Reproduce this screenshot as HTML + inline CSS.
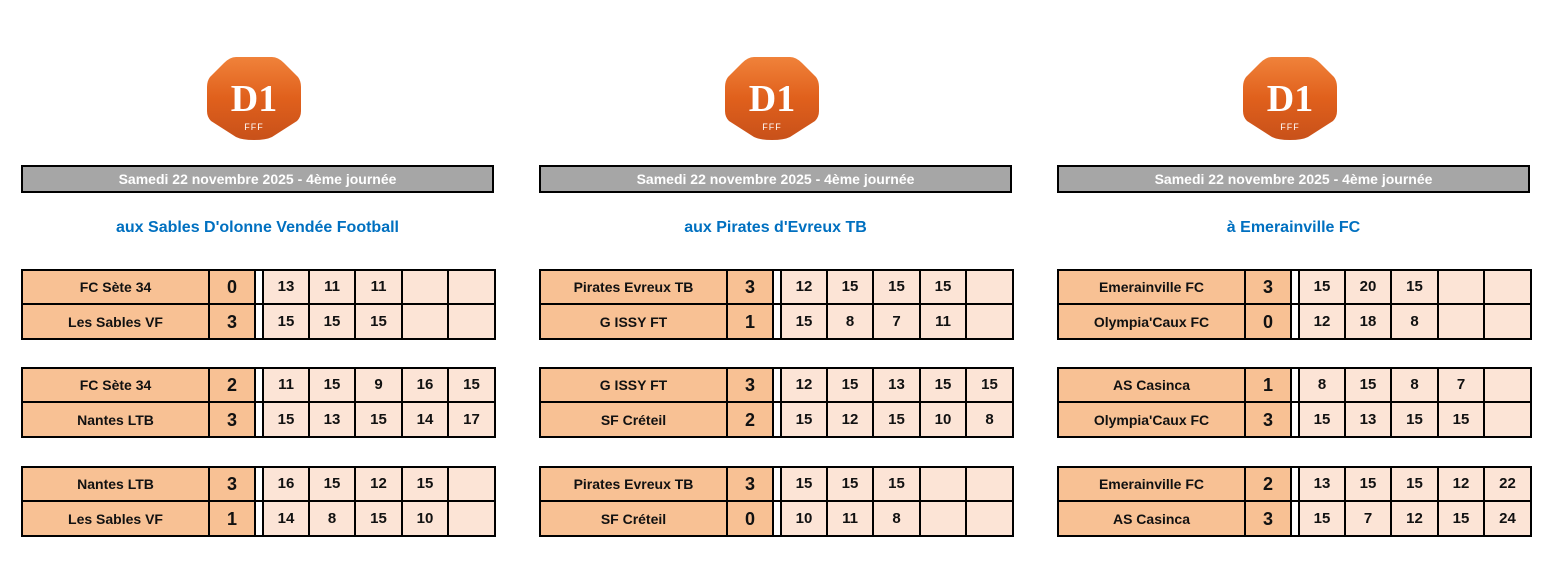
<!DOCTYPE html>
<html><head><meta charset="utf-8"><style>
body{margin:0;width:1551px;height:563px;background:#fff;position:relative;overflow:hidden;font-family:"Liberation Sans",Arial,sans-serif}
.p{position:absolute;top:0;width:475px;height:563px}
.logo{position:absolute;left:185px;top:55px}
.hd{position:absolute;left:0;top:165px;width:469px;height:24px;background:#a6a6a6;border:2px solid #000;color:#fff;font-weight:bold;font-size:14px;text-align:center;line-height:24px}
.tt{position:absolute;left:0;width:473px;top:219px;text-align:center;color:#0070c0;font-weight:bold;font-size:16px}
table{position:absolute;left:0;border-collapse:collapse;table-layout:fixed;width:475px}
td{border:2px solid #000;padding:0;text-align:center;font-weight:bold;color:#111;font-size:14px;line-height:16px}
td.n{background:#f8c194}
td.s{background:#f8c194;font-size:18px}
td.g{background:#fff}
td.v{background:#fce4d6;font-size:15px}
tr.a td{height:32px}
tr.b td{height:33px}
</style></head><body>

<svg width="0" height="0" style="position:absolute"><defs><linearGradient id="og" x1="0" y1="0" x2="0" y2="1"><stop offset="0" stop-color="#f0823a"/><stop offset="0.5" stop-color="#e0601c"/><stop offset="1" stop-color="#c8511a"/></linearGradient></defs></svg>

<div class="p" style="left:21px">
<svg class="logo" width="96" height="86" viewBox="0 0 96 86"><path d="M30 2 L66 2 Q72 2 78 8 L92 22 Q95 26 95 32 L95 56 Q95 62 91 66 L66 82 Q60 85 48 85 Q36 85 30 82 L5 66 Q1 62 1 56 L1 32 Q1 26 4 22 L18 8 Q24 2 30 2Z" fill="url(#og)"/><text x="48" y="56" text-anchor="middle" font-family="Liberation Serif,serif" font-weight="bold" font-size="38" fill="#fff">D1</text><text x="48" y="75" text-anchor="middle" font-family="Liberation Sans,sans-serif" font-size="9" fill="#fff" letter-spacing="1">FFF</text></svg>
<div class="hd">Samedi 22 novembre 2025 - 4ème journée</div>
<div class="tt">aux Sables D'olonne Vendée Football</div>
<table style="top:269px"><colgroup><col style="width:187px"><col style="width:46px"><col style="width:8px"><col style="width:46px"><col style="width:46px"><col style="width:47px"><col style="width:46px"><col style="width:47px"></colgroup><tr class="a"><td class="n">FC Sète 34</td><td class="s">0</td><td class="g"></td><td class="v">13</td><td class="v">11</td><td class="v">11</td><td class="v"></td><td class="v"></td></tr><tr class="b"><td class="n">Les Sables VF</td><td class="s">3</td><td class="g"></td><td class="v">15</td><td class="v">15</td><td class="v">15</td><td class="v"></td><td class="v"></td></tr></table>
<table style="top:367px"><colgroup><col style="width:187px"><col style="width:46px"><col style="width:8px"><col style="width:46px"><col style="width:46px"><col style="width:47px"><col style="width:46px"><col style="width:47px"></colgroup><tr class="a"><td class="n">FC Sète 34</td><td class="s">2</td><td class="g"></td><td class="v">11</td><td class="v">15</td><td class="v">9</td><td class="v">16</td><td class="v">15</td></tr><tr class="b"><td class="n">Nantes LTB</td><td class="s">3</td><td class="g"></td><td class="v">15</td><td class="v">13</td><td class="v">15</td><td class="v">14</td><td class="v">17</td></tr></table>
<table style="top:466px"><colgroup><col style="width:187px"><col style="width:46px"><col style="width:8px"><col style="width:46px"><col style="width:46px"><col style="width:47px"><col style="width:46px"><col style="width:47px"></colgroup><tr class="a"><td class="n">Nantes LTB</td><td class="s">3</td><td class="g"></td><td class="v">16</td><td class="v">15</td><td class="v">12</td><td class="v">15</td><td class="v"></td></tr><tr class="b"><td class="n">Les Sables VF</td><td class="s">1</td><td class="g"></td><td class="v">14</td><td class="v">8</td><td class="v">15</td><td class="v">10</td><td class="v"></td></tr></table>
</div>

<div class="p" style="left:539px">
<svg class="logo" width="96" height="86" viewBox="0 0 96 86"><path d="M30 2 L66 2 Q72 2 78 8 L92 22 Q95 26 95 32 L95 56 Q95 62 91 66 L66 82 Q60 85 48 85 Q36 85 30 82 L5 66 Q1 62 1 56 L1 32 Q1 26 4 22 L18 8 Q24 2 30 2Z" fill="url(#og)"/><text x="48" y="56" text-anchor="middle" font-family="Liberation Serif,serif" font-weight="bold" font-size="38" fill="#fff">D1</text><text x="48" y="75" text-anchor="middle" font-family="Liberation Sans,sans-serif" font-size="9" fill="#fff" letter-spacing="1">FFF</text></svg>
<div class="hd">Samedi 22 novembre 2025 - 4ème journée</div>
<div class="tt">aux Pirates d'Evreux TB</div>
<table style="top:269px"><colgroup><col style="width:187px"><col style="width:46px"><col style="width:8px"><col style="width:46px"><col style="width:46px"><col style="width:47px"><col style="width:46px"><col style="width:47px"></colgroup><tr class="a"><td class="n">Pirates Evreux TB</td><td class="s">3</td><td class="g"></td><td class="v">12</td><td class="v">15</td><td class="v">15</td><td class="v">15</td><td class="v"></td></tr><tr class="b"><td class="n">G ISSY FT</td><td class="s">1</td><td class="g"></td><td class="v">15</td><td class="v">8</td><td class="v">7</td><td class="v">11</td><td class="v"></td></tr></table>
<table style="top:367px"><colgroup><col style="width:187px"><col style="width:46px"><col style="width:8px"><col style="width:46px"><col style="width:46px"><col style="width:47px"><col style="width:46px"><col style="width:47px"></colgroup><tr class="a"><td class="n">G ISSY FT</td><td class="s">3</td><td class="g"></td><td class="v">12</td><td class="v">15</td><td class="v">13</td><td class="v">15</td><td class="v">15</td></tr><tr class="b"><td class="n">SF Créteil</td><td class="s">2</td><td class="g"></td><td class="v">15</td><td class="v">12</td><td class="v">15</td><td class="v">10</td><td class="v">8</td></tr></table>
<table style="top:466px"><colgroup><col style="width:187px"><col style="width:46px"><col style="width:8px"><col style="width:46px"><col style="width:46px"><col style="width:47px"><col style="width:46px"><col style="width:47px"></colgroup><tr class="a"><td class="n">Pirates Evreux TB</td><td class="s">3</td><td class="g"></td><td class="v">15</td><td class="v">15</td><td class="v">15</td><td class="v"></td><td class="v"></td></tr><tr class="b"><td class="n">SF Créteil</td><td class="s">0</td><td class="g"></td><td class="v">10</td><td class="v">11</td><td class="v">8</td><td class="v"></td><td class="v"></td></tr></table>
</div>

<div class="p" style="left:1057px">
<svg class="logo" width="96" height="86" viewBox="0 0 96 86"><path d="M30 2 L66 2 Q72 2 78 8 L92 22 Q95 26 95 32 L95 56 Q95 62 91 66 L66 82 Q60 85 48 85 Q36 85 30 82 L5 66 Q1 62 1 56 L1 32 Q1 26 4 22 L18 8 Q24 2 30 2Z" fill="url(#og)"/><text x="48" y="56" text-anchor="middle" font-family="Liberation Serif,serif" font-weight="bold" font-size="38" fill="#fff">D1</text><text x="48" y="75" text-anchor="middle" font-family="Liberation Sans,sans-serif" font-size="9" fill="#fff" letter-spacing="1">FFF</text></svg>
<div class="hd">Samedi 22 novembre 2025 - 4ème journée</div>
<div class="tt">à Emerainville FC</div>
<table style="top:269px"><colgroup><col style="width:187px"><col style="width:46px"><col style="width:8px"><col style="width:46px"><col style="width:46px"><col style="width:47px"><col style="width:46px"><col style="width:47px"></colgroup><tr class="a"><td class="n">Emerainville FC</td><td class="s">3</td><td class="g"></td><td class="v">15</td><td class="v">20</td><td class="v">15</td><td class="v"></td><td class="v"></td></tr><tr class="b"><td class="n">Olympia'Caux FC</td><td class="s">0</td><td class="g"></td><td class="v">12</td><td class="v">18</td><td class="v">8</td><td class="v"></td><td class="v"></td></tr></table>
<table style="top:367px"><colgroup><col style="width:187px"><col style="width:46px"><col style="width:8px"><col style="width:46px"><col style="width:46px"><col style="width:47px"><col style="width:46px"><col style="width:47px"></colgroup><tr class="a"><td class="n">AS Casinca</td><td class="s">1</td><td class="g"></td><td class="v">8</td><td class="v">15</td><td class="v">8</td><td class="v">7</td><td class="v"></td></tr><tr class="b"><td class="n">Olympia'Caux FC</td><td class="s">3</td><td class="g"></td><td class="v">15</td><td class="v">13</td><td class="v">15</td><td class="v">15</td><td class="v"></td></tr></table>
<table style="top:466px"><colgroup><col style="width:187px"><col style="width:46px"><col style="width:8px"><col style="width:46px"><col style="width:46px"><col style="width:47px"><col style="width:46px"><col style="width:47px"></colgroup><tr class="a"><td class="n">Emerainville FC</td><td class="s">2</td><td class="g"></td><td class="v">13</td><td class="v">15</td><td class="v">15</td><td class="v">12</td><td class="v">22</td></tr><tr class="b"><td class="n">AS Casinca</td><td class="s">3</td><td class="g"></td><td class="v">15</td><td class="v">7</td><td class="v">12</td><td class="v">15</td><td class="v">24</td></tr></table>
</div>

</body></html>
